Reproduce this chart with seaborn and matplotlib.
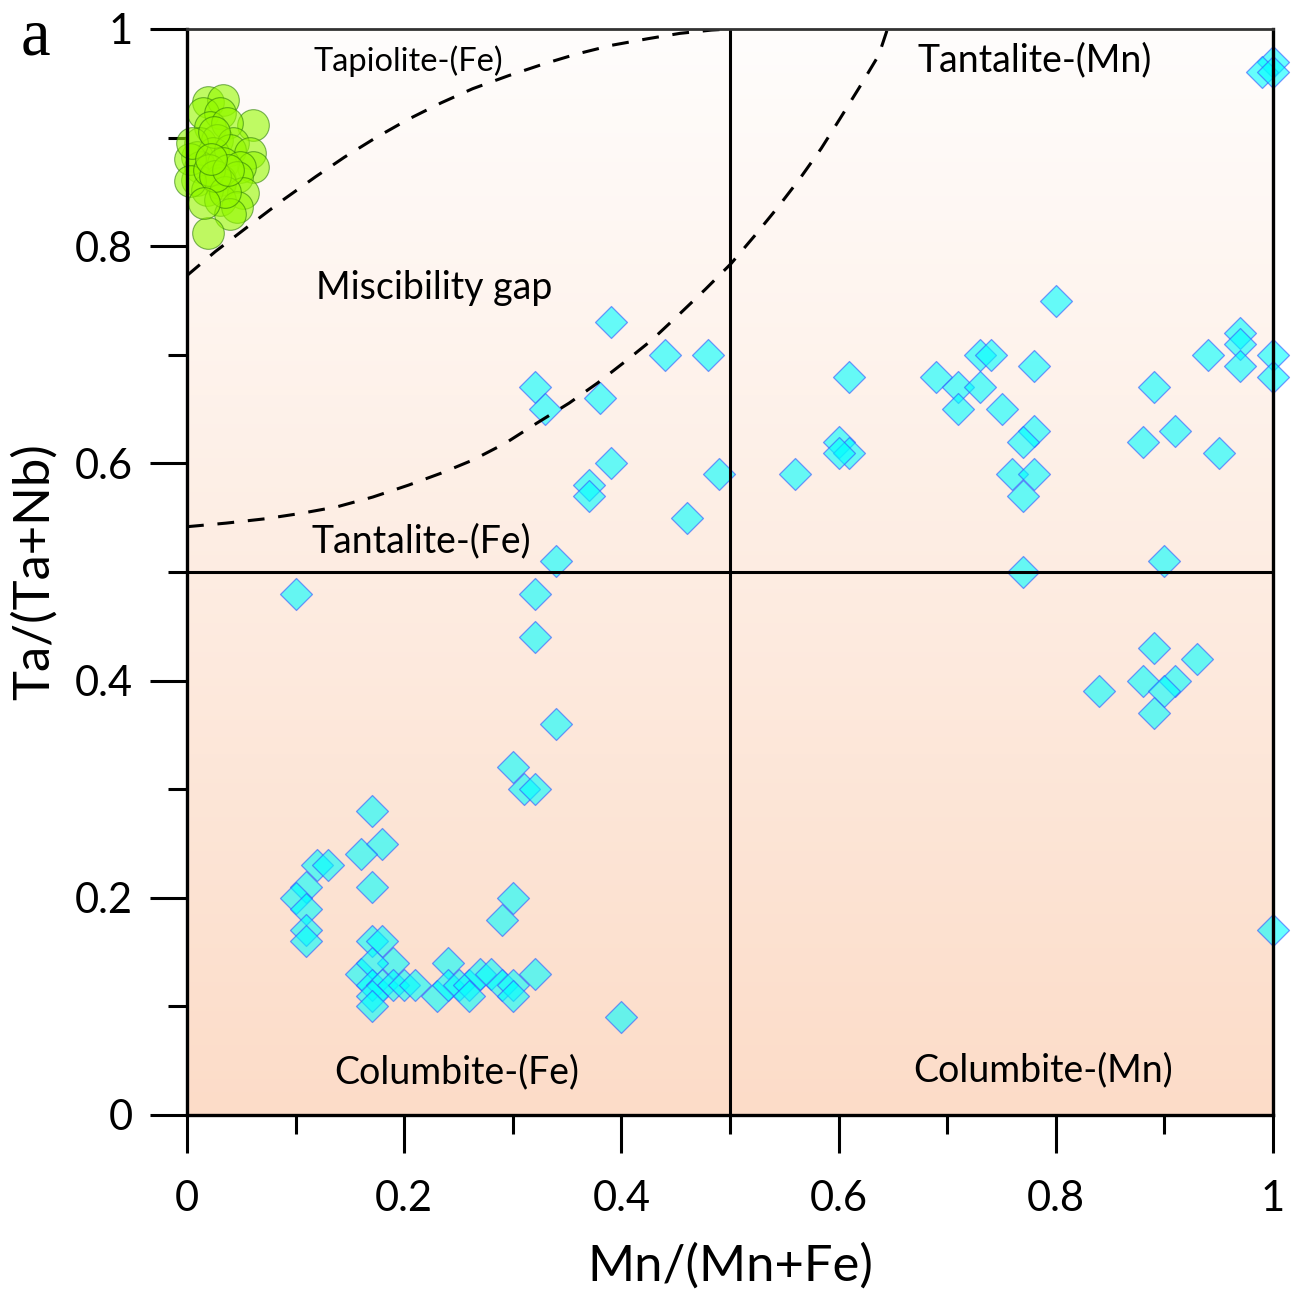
import numpy as np
import pandas as pd
import matplotlib
matplotlib.use("Agg")
import matplotlib.pyplot as plt
from matplotlib.colors import LinearSegmentedColormap
import seaborn as sns

# Tapiolite compositions (green circles)
tap_x = [0.019, 0.033, 0.061, 0.015, 0.030, 0.021, 0.037, 0.012, 0.028, 0.042,
         0.009, 0.024, 0.040, 0.058, 0.061, 0.012, 0.033, 0.049, 0.009, 0.030,
         0.046, 0.030, 0.018, 0.052, 0.030, 0.046, 0.040, 0.019, 0.003, 0.003,
         0.005, 0.020, 0.025, 0.035, 0.026, 0.038, 0.022, 0.016]
tap_y = [0.933, 0.935, 0.912, 0.923, 0.923, 0.910, 0.913, 0.895, 0.898, 0.895,
         0.882, 0.886, 0.889, 0.886, 0.873, 0.873, 0.877, 0.873, 0.861, 0.861,
         0.864, 0.858, 0.852, 0.849, 0.843, 0.836, 0.830, 0.812, 0.880, 0.860,
         0.895, 0.870, 0.905, 0.850, 0.865, 0.870, 0.880, 0.840]

# Columbite-tantalite compositions (cyan diamonds)
col_x = [0.32, 0.33, 0.38, 0.39, 0.44, 0.48, 0.49, 0.39, 0.37, 0.37, 0.46, 0.34,
         0.32, 0.10, 0.32, 0.34, 0.30, 0.31, 0.32, 0.17, 0.18, 0.16, 0.17, 0.12,
         0.13, 0.11, 0.10, 0.11, 0.11, 0.11, 0.30, 0.29, 0.17, 0.18, 0.19, 0.16,
         0.17, 0.17, 0.18, 0.19, 0.20, 0.21, 0.17, 0.17, 0.24, 0.23, 0.24, 0.25,
         0.26, 0.27, 0.28, 0.29, 0.30, 0.32, 0.26, 0.30, 0.40,
         0.80, 0.61, 0.60, 0.61, 0.60, 0.56, 0.69, 0.71, 0.71, 0.73, 0.74, 0.73,
         0.75, 0.78, 0.78, 0.77, 0.76, 0.78, 0.77, 0.77, 0.89, 0.88, 0.91, 0.95,
         0.90, 0.94, 0.97, 0.97, 0.97, 1.00, 1.00, 1.00, 0.99, 1.00,
         0.89, 0.93, 0.88, 0.91, 0.90, 0.84, 0.89, 1.00]
col_y = [0.67, 0.65, 0.66, 0.73, 0.70, 0.70, 0.59, 0.60, 0.58, 0.57, 0.55, 0.51,
         0.48, 0.48, 0.44, 0.36, 0.32, 0.30, 0.30, 0.28, 0.25, 0.24, 0.21, 0.23,
         0.23, 0.21, 0.20, 0.19, 0.17, 0.16, 0.20, 0.18, 0.16, 0.16, 0.14, 0.13,
         0.14, 0.12, 0.12, 0.12, 0.12, 0.12, 0.11, 0.10, 0.14, 0.11, 0.12, 0.12,
         0.12, 0.13, 0.13, 0.12, 0.12, 0.13, 0.11, 0.11, 0.09,
         0.75, 0.68, 0.62, 0.61, 0.61, 0.59, 0.68, 0.67, 0.65, 0.70, 0.70, 0.67,
         0.65, 0.69, 0.63, 0.62, 0.59, 0.59, 0.57, 0.50, 0.67, 0.62, 0.63, 0.61,
         0.51, 0.70, 0.72, 0.71, 0.69, 0.70, 0.68, 0.97, 0.96, 0.96,
         0.43, 0.42, 0.40, 0.40, 0.39, 0.39, 0.37, 0.17]

# Field boundaries (dashed curves)
tapiolite_bx = [0.0, 0.026, 0.056, 0.089, 0.1185, 0.145, 0.174, 0.204, 0.234, 0.263,
                0.296, 0.329, 0.359, 0.391, 0.424, 0.454, 0.483, 0.50]
tapiolite_by = [0.773, 0.795, 0.818, 0.843, 0.864, 0.882, 0.900, 0.917, 0.932, 0.945,
                0.957, 0.968, 0.977, 0.985, 0.991, 0.996, 0.999, 1.0]
gap_bx = [0.0, 0.036, 0.072, 0.105, 0.138, 0.171, 0.204, 0.234, 0.263, 0.293, 0.322,
          0.352, 0.378, 0.405, 0.428, 0.454, 0.477, 0.501, 0.523, 0.5445, 0.5645,
          0.584, 0.601, 0.619, 0.637, 0.645]
gap_by = [0.5417, 0.545, 0.549, 0.554, 0.560, 0.569, 0.580, 0.591, 0.603, 0.6185, 0.637,
          0.6556, 0.674, 0.695, 0.7136, 0.738, 0.760, 0.784, 0.810, 0.8364, 0.8625,
          0.890, 0.917, 0.946, 0.976, 1.0]

field_labels = ["Tapiolite-(Fe)", "Tantalite-(Mn)", "Miscibility gap",
                "Tantalite-(Fe)", "Columbite-(Fe)", "Columbite-(Mn)"]
field_label_x = [0.2035, 0.781, 0.2274, 0.2155, 0.2486, 0.788]
field_label_y = [0.970, 0.9715, 0.7615, 0.5285, 0.0396, 0.0414]
field_label_size = [23.5, 27, 27, 27, 27, 27]

sns.set_style("ticks")
plt.rcParams["font.family"] = ["Lato", "DejaVu Sans"]
plt.rcParams["text.color"] = "black"
plt.rcParams["axes.labelcolor"] = "black"
plt.rcParams["xtick.color"] = "black"
plt.rcParams["ytick.color"] = "black"

fig = plt.figure(figsize=(12.98, 12.92), dpi=100)
ax = fig.add_axes([187 / 1298, 1 - 1115 / 1292, 1086 / 1298, 1086 / 1292])

# vertical background gradient
grad = np.linspace(0, 1, 256).reshape(-1, 1)
cmap = LinearSegmentedColormap.from_list("bg", ["#FCDCC8", "#FFFDFC"])
ax.imshow(grad, extent=[0, 1, 0, 1], origin="lower", aspect="auto",
          cmap=cmap, zorder=0, interpolation="bilinear")

tap = pd.DataFrame({"x": tap_x, "y": tap_y})
col = pd.DataFrame({"x": col_x, "y": col_y})

sns.scatterplot(data=tap, x="x", y="y", ax=ax, marker="o", s=520,
                color="#95FA00", edgecolor="#2E7D0A", linewidth=0.8,
                alpha=0.6, zorder=3, clip_on=False, legend=False)
sns.scatterplot(data=col, x="x", y="y", ax=ax, marker="D", s=265,
                color="#00FFFF", edgecolor="#3355FF", linewidth=0.9,
                alpha=0.6, zorder=3, clip_on=False, legend=False)

dash = (5.5, 4.5)
ax.plot(tapiolite_bx, tapiolite_by, color="black", lw=2.2, dashes=dash, zorder=4)
ax.plot(gap_bx, gap_by, color="black", lw=2.2, dashes=dash, zorder=4)

ax.axvline(0.5, color="black", lw=2.2, zorder=5)
ax.axhline(0.5, color="black", lw=2.2, zorder=5)

for txt, tx, ty, fs in zip(field_labels, field_label_x, field_label_y, field_label_size):
    ax.text(tx, ty, txt, ha="center", va="center", fontsize=fs, color="black", zorder=6)

ax.set_xlim(0, 1)
ax.set_ylim(0, 1)
ax.set_xticks([0, 0.2, 0.4, 0.6, 0.8, 1.0])
ax.set_xticklabels(["0", "0.2", "0.4", "0.6", "0.8", "1"])
ax.set_yticks([0, 0.2, 0.4, 0.6, 0.8, 1.0])
ax.set_yticklabels(["0", "0.2", "0.4", "0.6", "0.8", "1"])
ax.set_xticks([0.1, 0.3, 0.5, 0.7, 0.9], minor=True)
ax.set_yticks([0.1, 0.3, 0.5, 0.7, 0.9], minor=True)
ax.tick_params(which="major", direction="out", length=27, width=2.2,
               labelsize=30, pad=12, color="black", labelcolor="black")
ax.tick_params(axis="x", which="major", pad=20)
ax.tick_params(which="minor", direction="out", length=14, width=2.2, color="black")

for side in ["left", "bottom", "right"]:
    ax.spines[side].set_color("black")
    ax.spines[side].set_linewidth(2.4)
ax.spines["top"].set_color("#333333")
ax.spines["top"].set_linewidth(2.0)
for s in ax.spines.values():
    s.set_zorder(6)

ax.set_xlabel("Mn/(Mn+Fe)", fontsize=36.5, labelpad=18, color="black")
ax.set_ylabel("Ta/(Ta+Nb)", fontsize=36.5, labelpad=12, color="black")

fig.text(35 / 1298, 1 - 38 / 1292, "a", family=["Liberation Serif", "DejaVu Serif"],
         fontsize=48, ha="center", va="center", color="black")

fig.savefig("out.png", dpi=100)
